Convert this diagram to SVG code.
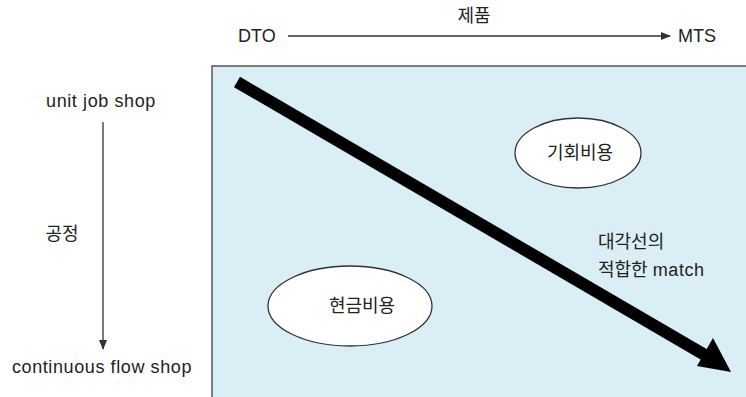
<svg xmlns="http://www.w3.org/2000/svg" width="746" height="397" viewBox="0 0 746 397">
<style>
text{font-family:"Liberation Sans","Noto Sans CJK KR",Arial,sans-serif;font-size:18px;fill:#222}
.lat{letter-spacing:0.6px}
.ell{fill:#fff;stroke:#333;stroke-width:1.3}
.axis{stroke:#333;stroke-width:1.3;fill:none}
</style>
<defs>
<marker id="ah" markerWidth="10" markerHeight="8" refX="9" refY="4" orient="auto" markerUnits="userSpaceOnUse">
<path d="M0,0 L10,4 L0,8 Z" fill="#333"/>
</marker>
</defs>
<rect width="746" height="397" fill="#fff"/>
<g id="panel">
<rect x="212" y="66" width="540" height="340" fill="#d9eef5" stroke="#555" stroke-width="1.5"/>
</g>
<g id="connectors">
<line class="axis" x1="288" y1="36" x2="670" y2="36" marker-end="url(#ah)"/>
<line class="axis" x1="103" y1="122" x2="103" y2="349" marker-end="url(#ah)"/>
<line x1="237" y1="82" x2="710" y2="358" stroke="#000" stroke-width="12"/>
<polygon points="731,372 697,366 713,338" fill="#000"/>
</g>
<g id="axis-labels">
<text x="238" y="42">DTO</text>
<text x="474" y="22" text-anchor="middle">제품</text>
<text x="678" y="42">MTS</text>
<text class="lat" x="101" y="107" text-anchor="middle">unit job shop</text>
<text x="62" y="240" text-anchor="middle">공정</text>
<text class="lat" x="102" y="373" text-anchor="middle">continuous flow shop</text>
</g>
<g id="node-opportunity">
<ellipse class="ell" cx="578" cy="153" rx="63" ry="35"/>
<text x="580" y="159" text-anchor="middle">기회비용</text>
</g>
<g id="node-cash">
<ellipse class="ell" cx="350" cy="306" rx="82" ry="40"/>
<text x="362" y="312" text-anchor="middle">현금비용</text>
</g>
<g id="label-match">
<text x="598" y="248">대각선의</text>
<text x="598" y="276">적합한 <tspan class="lat">match</tspan></text>
</g>
</svg>
